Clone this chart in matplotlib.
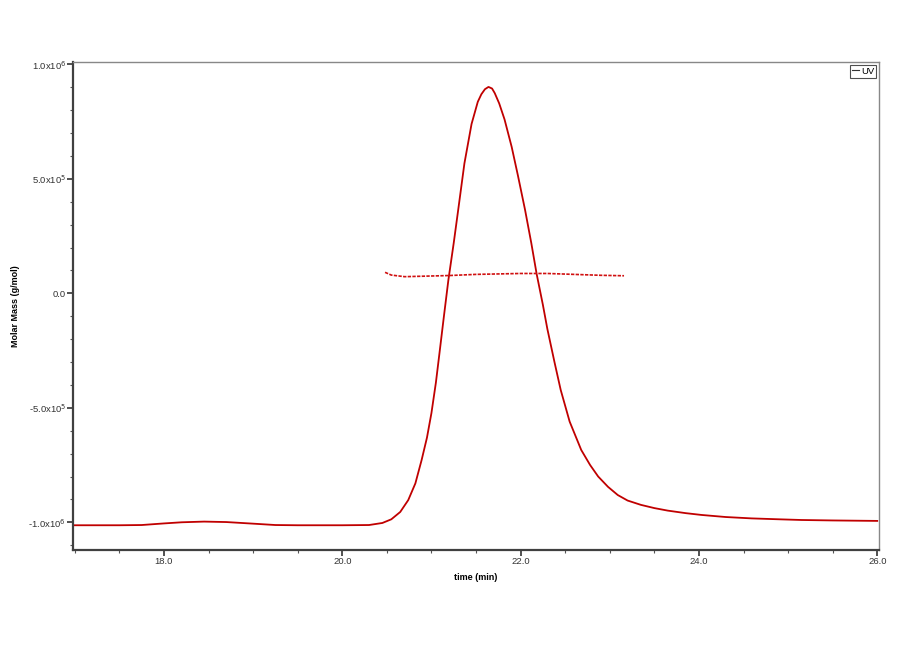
import numpy as np
import matplotlib
matplotlib.use("Agg")
import matplotlib.pyplot as plt
import matplotlib.ticker as mticker

plt.rcParams["font.family"] = ["Liberation Sans", "DejaVu Sans"]

# UV trace (time in min, signal in units of 1e5 g/mol on the molar-mass scale)
uv_time = [17.0, 17.5, 17.75, 18.0, 18.2, 18.45, 18.7, 19.0, 19.25, 19.5,
           20.0, 20.3, 20.45, 20.55, 20.65, 20.74, 20.82, 20.89, 20.95, 21.0,
           21.05, 21.09, 21.14, 21.19, 21.25, 21.3, 21.37, 21.45, 21.52, 21.56,
           21.6, 21.64, 21.68, 21.71, 21.76, 21.82, 21.9, 21.97, 22.05, 22.12,
           22.18, 22.25, 22.3, 22.38, 22.45, 22.55, 22.68, 22.78, 22.87,
           22.98, 23.09, 23.2, 23.35, 23.5, 23.65, 23.85, 24.03, 24.3, 24.59,
           24.9, 25.15, 25.5, 26.0]
uv_signal = [-10.13, -10.13, -10.12, -10.05, -10.0, -9.97, -9.99, -10.06, -10.12, -10.13,
             -10.13, -10.12, -10.03, -9.87, -9.55, -9.03, -8.3, -7.28, -6.3, -5.23,
             -3.9, -2.62, -1.0, 0.58, 2.2, 3.64, 5.68, 7.4, 8.37, 8.7,
             8.92, 9.02, 8.95, 8.75, 8.3, 7.6, 6.4, 5.15, 3.65, 2.2,
             0.85, -0.5, -1.55, -3.0, -4.22, -5.6, -6.84, -7.5, -8.0,
             -8.45, -8.81, -9.05, -9.24, -9.38, -9.49, -9.6, -9.68, -9.77, -9.83,
             -9.87, -9.9, -9.92, -9.94]

# Molar mass across the peak (1e5 g/mol)
mm_time = [20.48, 20.55, 20.7, 21.0, 21.2, 21.5, 22.0, 22.3, 22.6, 22.9, 23.16]
mm_value = [0.92, 0.80, 0.73, 0.76, 0.78, 0.83, 0.87, 0.87, 0.83, 0.79, 0.77]

x_ticks = [18.0, 20.0, 22.0, 24.0, 26.0]
y_ticks = [-1.0e6, -5.0e5, 0.0, 5.0e5, 1.0e6]

LINE_COLOR = "#c00000"

fig = plt.figure(figsize=(9, 6.6), dpi=100)
ax = fig.add_axes([0.0811, 0.1667, 0.8956, 0.7394])

ax.plot(uv_time, np.array(uv_signal) * 1e5, color=LINE_COLOR, lw=1.3, label="UV")
ax.plot(mm_time, np.array(mm_value) * 1e5, color="#d01010", lw=1.2,
        linestyle=(0, (2, 0.8)))

ax.set_xlim(16.98, 26.02)
ax.set_ylim(-1.121e6, 1.011e6)


def y_fmt(v, pos):
    if abs(v) < 1:
        return "0.0"
    exp = int(np.floor(np.log10(abs(v))))
    mant = v / 10 ** exp
    return r"%.1fx10$^{%d}$" % (mant, exp)


ax.set_xticks(x_ticks)
ax.set_yticks(y_ticks)
ax.xaxis.set_major_formatter(mticker.FormatStrFormatter("%.1f"))
ax.yaxis.set_major_formatter(mticker.FuncFormatter(y_fmt))
ax.xaxis.set_minor_locator(mticker.MultipleLocator(0.5))
ax.yaxis.set_minor_locator(mticker.MultipleLocator(1e5))

ax.tick_params(which="major", direction="out", length=4, width=1.2,
               colors="#333333", labelsize=6.8, labelcolor="#333333", pad=1)
ax.tick_params(which="minor", direction="out", length=2, width=0.8, colors="#555555")
ax.tick_params(top=False, right=False)

for side in ["left", "bottom"]:
    ax.spines[side].set_color("#404040")
    ax.spines[side].set_linewidth(1.6)
for side in ["top", "right"]:
    ax.spines[side].set_color("#888888")
    ax.spines[side].set_linewidth(1.0)

ax.set_xlabel("time (min)", fontsize=6.5, fontweight="bold")
ax.set_ylabel("Molar Mass (g/mol)", fontsize=6.5, fontweight="bold")
ax.xaxis.set_label_coords(0.5, -0.048)
ax.yaxis.set_label_coords(-0.066, 0.5)

leg = ax.legend(loc="upper right", fontsize=6.8, frameon=True, fancybox=False,
                handlelength=0.8, handletextpad=0.2, borderpad=0.2,
                borderaxespad=0.3)
leg.get_frame().set_edgecolor("#222222")
leg.get_frame().set_linewidth(0.8)
for line in leg.get_lines():
    line.set_color("#333333")
    line.set_linewidth(0.8)

fig.savefig("out.png", dpi=100)
